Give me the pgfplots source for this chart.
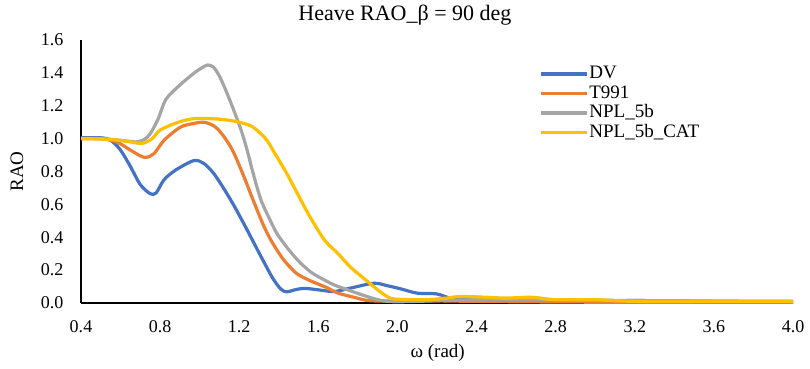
\documentclass[border=0pt]{standalone}
\usepackage{fontspec}
\setmainfont{Liberation Serif}
\usepackage{pgfplots}
\pgfplotsset{compat=1.18}
\definecolor{cDV}{HTML}{4472C4}
\definecolor{cT}{HTML}{ED7D31}
\definecolor{cN}{HTML}{A5A5A5}
\definecolor{cC}{HTML}{FFC000}
\begin{document}
\begin{tikzpicture}
\begin{axis}[
  at={(0pt,0pt)}, anchor=south west,
  scale only axis, width=712pt, height=263pt,
  xmin=0.4, xmax=4.0, ymin=0, ymax=1.6,
  xtick={0.4,0.8,...,4.01}, ytick={0,0.2,...,1.61},
  axis x line*=bottom, axis y line*=left,
  axis line style={black, line width=1.5pt, -},
  major tick length=0pt,
  tick label style={font=\fontsize{18}{20}\selectfont},
  /pgf/number format/assume math mode=true,
  /pgf/number format/.cd, fixed, fixed zerofill, precision=1, /pgfplots/.cd,
  yticklabel style={xshift=-14pt},
  xticklabel style={yshift=-14pt},
  xlabel={ω (rad)}, ylabel={RAO},
  every axis x label/.style={at={(axis description cs:0.501,-0.19)}, anchor=center, font=\fontsize{19}{21}\selectfont},
  every axis y label/.style={at={(axis description cs:-0.09,0.5)}, anchor=center, rotate=90, font=\fontsize{19}{21}\selectfont},
  title={Heave RAO\_β = 90 deg},
  title style={font=\fontsize{22}{24}\selectfont, at={(axis description cs:0.455,1.072)}, anchor=center},
  legend style={draw=none, fill=none, at={(axis description cs:0.639,0.916)}, anchor=north west,
    font=\fontsize{19}{21}\selectfont, row sep=0pt,
    nodes={inner sep=1pt, text height=13.5pt, text depth=4pt}},
  legend cell align=left,
  legend image code/.code={\draw[#1] (0pt,0pt) -- (46pt,0pt);},
  every axis plot/.append style={line width=3.2pt, smooth, tension=0.5, no markers},
]
\addplot[cDV] coordinates {(0.40,1.005) (0.50,1.005) (0.55,0.99) (0.60,0.93) (0.65,0.83) (0.70,0.72) (0.75,0.665) (0.78,0.67) (0.82,0.75) (0.88,0.81) (0.97,0.866) (1.02,0.85) (1.07,0.79) (1.12,0.70) (1.17,0.60) (1.22,0.49) (1.27,0.375) (1.32,0.26) (1.37,0.15) (1.41,0.085) (1.44,0.068) (1.48,0.08) (1.53,0.089) (1.60,0.08) (1.68,0.07) (1.76,0.09) (1.88,0.12) (1.95,0.105) (2.02,0.085) (2.10,0.06) (2.20,0.055) (2.28,0.025) (2.40,0.02) (2.60,0.015) (2.80,0.015) (3.0,0.01) (3.2,0.015) (3.6,0.01) (4.0,0.01)};
\addlegendentry{DV}
\addplot[cT] coordinates {(0.40,1.0) (0.50,1.0) (0.58,0.98) (0.65,0.93) (0.70,0.895) (0.73,0.886) (0.77,0.91) (0.82,0.99) (0.90,1.068) (0.96,1.09) (1.02,1.10) (1.06,1.085) (1.09,1.06) (1.13,1.00) (1.17,0.92) (1.22,0.78) (1.27,0.627) (1.32,0.48) (1.36,0.383) (1.42,0.27) (1.48,0.19) (1.51,0.165) (1.56,0.135) (1.64,0.095) (1.70,0.06) (1.78,0.035) (1.85,0.015) (1.95,0.012) (2.1,0.015) (2.4,0.01) (3.0,0.005) (4.0,0.005)};
\addlegendentry{T991}
\addplot[cN] coordinates {(0.40,1.0) (0.50,1.0) (0.60,0.99) (0.68,0.98) (0.72,0.995) (0.75,1.03) (0.79,1.12) (0.83,1.24) (0.90,1.326) (0.97,1.397) (1.01,1.43) (1.04,1.448) (1.07,1.435) (1.10,1.38) (1.13,1.30) (1.17,1.18) (1.21,1.05) (1.24,0.93) (1.27,0.79) (1.31,0.627) (1.35,0.52) (1.39,0.424) (1.44,0.34) (1.48,0.282) (1.51,0.243) (1.56,0.19) (1.60,0.16) (1.68,0.11) (1.76,0.075) (1.85,0.038) (1.92,0.015) (1.98,0.008) (2.1,0.01) (2.4,0.02) (2.8,0.02) (3.2,0.015) (4.0,0.01)};
\addlegendentry{NPL\_5b}
\addplot[cC] coordinates {(0.40,1.0) (0.55,0.995) (0.65,0.98) (0.71,0.971) (0.76,1.0) (0.80,1.052) (0.885,1.097) (0.95,1.118) (1.00,1.123) (1.08,1.12) (1.14,1.113) (1.20,1.10) (1.26,1.077) (1.30,1.04) (1.34,0.99) (1.39,0.89) (1.44,0.789) (1.51,0.63) (1.55,0.54) (1.60,0.44) (1.64,0.37) (1.70,0.30) (1.76,0.221) (1.82,0.16) (1.88,0.10) (1.94,0.045) (1.98,0.025) (2.08,0.02) (2.15,0.02) (2.25,0.03) (2.32,0.04) (2.45,0.035) (2.55,0.03) (2.68,0.035) (2.80,0.02) (3.0,0.02) (3.2,0.01) (3.6,0.01) (4.0,0.01)};
\addlegendentry{NPL\_5b\_CAT}
\end{axis}
\pgfresetboundingbox
\path (-81pt,-65pt) rectangle (729pt,303pt);
\end{tikzpicture}
\end{document}
